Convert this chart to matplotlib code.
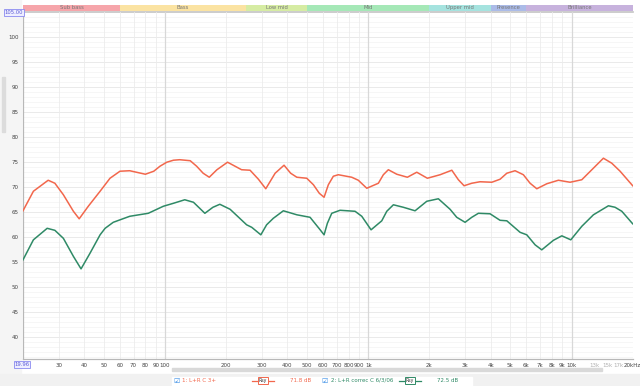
import matplotlib
matplotlib.use("Agg")
import matplotlib.pyplot as plt
from matplotlib.patches import Rectangle
from matplotlib.lines import Line2D
import matplotlib.transforms as mtransforms

plt.rcParams["font.family"] = ["DejaVu Sans"]

# 频响数据 (Hz, dB) —— 从图上读出
red_freq = [20, 22.5, 26.6, 28.7, 31.6, 35.4, 37.8, 41.9, 47.9, 53.6, 60, 67, 80, 88, 94.4, 102, 110,
            118, 133, 143, 154, 165, 180, 203, 238, 262, 288, 313, 348, 385, 415, 445, 498, 537,
            574, 606, 636, 673, 712, 829, 893, 983, 1121, 1186, 1255, 1381, 1557, 1732, 1953,
            2256, 2576, 2775, 2960, 3230, 3548, 4052, 4450, 4804, 5276, 5796, 6254, 6748, 7558,
            8618, 9838, 11234, 12590, 14350, 15780, 17340, 20000]
red_db = [65.2, 69.1, 71.3, 70.7, 68.4, 65.1, 63.6, 66.1, 69.1, 71.7, 73.1, 73.2, 72.5, 73.1, 74.1, 74.9, 75.3,
          75.4, 75.2, 74.1, 72.7, 71.9, 73.4, 74.9, 73.4, 73.3, 71.5, 69.6, 72.7, 74.3, 72.7, 71.9, 71.7, 70.4,
          68.7, 67.9, 70.4, 72.1, 72.4, 71.9, 71.3, 69.7, 70.7, 72.4, 73.4, 72.5, 71.9, 72.9, 71.7,
          72.4, 73.3, 71.4, 70.2, 70.7, 71.0, 70.9, 71.5, 72.7, 73.2, 72.4, 70.7, 69.6, 70.6,
          71.3, 70.9, 71.4, 73.4, 75.7, 74.7, 73.1, 70.2]

green_freq = [20, 22.5, 26.3, 28.7, 31.6, 35.4, 38.6, 42.7, 47.9, 50.7, 55.6, 67, 82.7, 98, 110, 125, 138,
              157, 172, 186, 209, 252, 267, 296, 316, 341, 382, 445, 517, 577, 606, 629, 661, 726,
              861, 929, 1032, 1165, 1233, 1329, 1488, 1699, 1940, 2212, 2526, 2724, 2994, 3230, 3482,
              3974, 4450, 4804, 5584, 6024, 6620, 7138, 8144, 8958, 9918, 11234, 12816, 15190, 16380,
              17680, 20000]
green_db = [55.4, 59.4, 61.7, 61.3, 59.7, 56.1, 53.6, 56.7, 60.4, 61.7, 62.9, 64.1, 64.7, 66.1, 66.7, 67.4, 66.9,
            64.7, 65.9, 66.5, 65.5, 62.4, 61.9, 60.4, 62.4, 63.7, 65.2, 64.4, 63.9, 61.5, 60.4, 62.7, 64.7, 65.3,
            65.1, 64.1, 61.4, 63.2, 65.1, 66.4, 65.9, 65.2, 67.1, 67.6, 65.5, 63.9, 62.9, 63.9, 64.7,
            64.6, 63.3, 63.2, 60.9, 60.4, 58.4, 57.4, 59.3, 60.2, 59.4, 62.1, 64.4, 66.2, 65.9,
            65.1, 62.6]

bands = ["Sub bass", "Bass", "Low mid", "Mid", "Upper mid", "Presence", "Brilliance"]
band_edges = [20, 60, 250, 500, 2000, 4000, 6000, 20000]
band_colors = ["#f6a5aa", "#fbe3a2", "#d6eca3", "#a5e8b7", "#a5e3df", "#abbbe8", "#c7b2dd"]

xtick_vals = [30, 40, 50, 60, 70, 80, 90, 100, 200, 300, 400, 500, 600, 700, 800, 900,
              1000, 2000, 3000, 4000, 5000, 6000, 7000, 8000, 9000, 10000, 20000]
xtick_labels = ["30", "40", "50", "60", "70", "80", "90", "100", "200", "300", "400", "500", "600",
                "700", "800", "900", "1k", "2k", "3k", "4k", "5k", "6k", "7k", "8k", "9k", "10k", "20kHz"]
faint_vals = [13000, 15000, 17000]
faint_labels = ["13k", "15k", "17k"]
grid_freqs = [20, 30, 40, 50, 60, 70, 80, 90, 100, 200, 300, 400, 500, 600, 700, 800, 900,
              1000, 2000, 3000, 4000, 5000, 6000, 7000, 8000, 9000, 10000]

RED = "#f2674c"
GREEN = "#2f8a66"

W, H = 640, 386


def box(x0, y0, x1, y1):
    return [x0 / W, 1 - y1 / H, (x1 - x0) / W, (y1 - y0) / H]


fig = plt.figure(figsize=(6.4, 3.86), dpi=100)

# 背景色块
fig.patches.append(Rectangle((0, 0), 21 / W, 1, transform=fig.transFigure, color="#f5f5f5", zorder=0))
fig.patches.append(Rectangle((0, 0), 1, 12 / H, transform=fig.transFigure, color="#f1f1f1", zorder=0))
fig.patches.append(Rectangle((172 / W, 15 / H), 430 / W, 3 / H, transform=fig.transFigure,
                             color="#d9d9d9", zorder=1))
fig.patches.append(Rectangle((2 / W, 1 - 132 / H), 2.5 / W, 55 / H, transform=fig.transFigure,
                             color="#dcdcdc", zorder=1))

ax = fig.add_axes(box(23, 11.5, 632.7, 359))
ax.set_zorder(5)
ax.patch.set_alpha(0)
ax.set_xscale("log")
ax.set_xlim(20, 20000)
ax.set_ylim(35.6, 105)

# 网格
for d in range(36, 106):
    ax.axhline(d, color="#e6e6e6" if d % 5 == 0 else "#f5f5f5", lw=0.6, zorder=1)
for f in grid_freqs:
    dark = f in (100, 1000, 10000)
    ax.axvline(f, color="#d8d8d8" if dark else "#ececec", lw=0.9 if dark else 0.6, zorder=1)

ax.plot(red_freq, red_db, color=RED, lw=1.1, zorder=3, solid_joinstyle="round")
ax.plot(green_freq, green_db, color=GREEN, lw=1.1, zorder=3, solid_joinstyle="round")

ax.set_xticks(xtick_vals)
ax.set_xticklabels(xtick_labels)
ax.xaxis.set_minor_locator(matplotlib.ticker.NullLocator())
ax.set_yticks(range(40, 101, 5))
ax.tick_params(axis="both", length=0, labelsize=4, colors="#444444")
ax.tick_params(axis="x", pad=3)
ax.tick_params(axis="y", pad=3)
trans = mtransforms.blended_transform_factory(ax.transData, ax.transAxes)
for f, lab in zip(faint_vals, faint_labels):
    ax.text(f, -0.011, lab, transform=trans, ha="center", va="top", fontsize=4, color="#b0b0b0")

for side in ["top", "right"]:
    ax.spines[side].set_visible(False)
ax.spines["left"].set_color("#b8b8b8")
ax.spines["bottom"].set_color("#b8b8b8")
ax.spines["left"].set_linewidth(0.9)
ax.spines["bottom"].set_linewidth(0.9)

# 频段色条
bax = fig.add_axes(box(23, 4.5, 632.7, 10.5))
bax.set_xscale("log")
bax.set_xlim(20, 20000)
bax.set_ylim(0, 1)
for i, name in enumerate(bands):
    lo, hi = band_edges[i], band_edges[i + 1]
    bax.axvspan(lo, hi, color=band_colors[i], lw=0)
    bax.text((lo * hi) ** 0.5, 0.5, name, ha="center", va="center", fontsize=3.8, color="#777777")
bax.axis("off")
fig.add_artist(Line2D([23 / W, 632.7 / W], [1 - 11.5 / H] * 2, color="#c4c4c4", lw=1.2))

# 角上的数值框
fig.text(14 / W, 1 - 12.5 / H, "105.00", fontsize=3.8, color="#5b5bd6", ha="center", va="center", zorder=10,
         bbox=dict(boxstyle="square,pad=0.15", fc="#eeeeff", ec="#8a8af0", lw=0.6))
fig.text(22 / W, 1 - 364.5 / H, "19.96", fontsize=3.8, color="#5b5bd6", ha="center", va="center", zorder=10,
         bbox=dict(boxstyle="square,pad=0.15", fc="#eeeeff", ec="#8a8af0", lw=0.6))

# 底部图例
fig.patches.append(Rectangle((172 / W, 0), 300 / W, 9 / H, transform=fig.transFigure,
                             color="white", zorder=1))
ly = 1 - 380.5 / H
for x0, label, col, xl, val in [(176, "1: L+R C 3+", RED, 252, "71.8 dB"),
                                 (325, "2: L+R correc C 6/3/06", GREEN, 399, "72.5 dB")]:
    fig.text(x0 / W, ly, "\u2611", fontsize=5, color="#3a8ee6", ha="center", va="center", zorder=3)
    fig.text((x0 + 6) / W, ly, label, fontsize=4, color=col, ha="left", va="center", zorder=3)
    fig.add_artist(Line2D([xl / W, (xl + 22) / W], [ly, ly], color=col, lw=0.9, zorder=3))
    fig.text((xl + 11) / W, ly, "Rsy", fontsize=3.3, color="#333333", ha="center", va="center", zorder=4,
             bbox=dict(boxstyle="square,pad=0.2", fc="white", ec=col, lw=0.7))
    fig.text((xl + 38) / W, ly, val, fontsize=4, color=col, ha="left", va="center", zorder=3)

fig.savefig("out.png", dpi=100)
